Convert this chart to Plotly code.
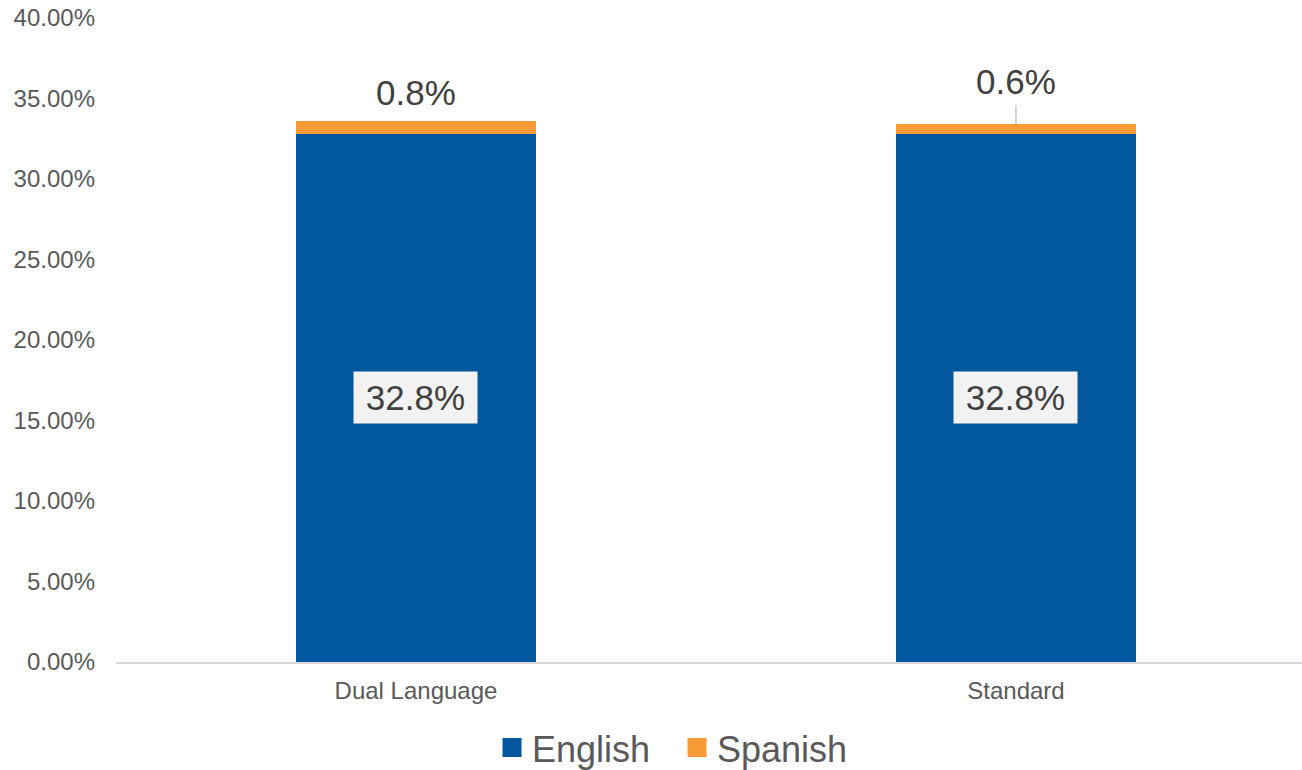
import plotly.graph_objects as go

categories = ["Dual Language", "Standard"]
english = [32.8, 32.8]
spanish = [0.8, 0.6]
y_ticks = [0, 5, 10, 15, 20, 25, 30, 35, 40]

BLUE = "#00579D"
ORANGE = "#F89A36"
FONT = "Liberation Sans, Arial, sans-serif"

fig = go.Figure()
fig.add_trace(go.Bar(x=categories, y=english, name="English", marker_color=BLUE,
                     width=0.4, showlegend=False, marker_line_width=0))
fig.add_trace(go.Bar(x=categories, y=spanish, name="Spanish", marker_color=ORANGE,
                     width=0.4, showlegend=False, marker_line_width=0))
# legend entries
fig.add_trace(go.Scatter(x=[None], y=[None], mode="markers", name="English",
                         marker=dict(symbol="square", size=16, color=BLUE,
                                     line=dict(color=BLUE, width=3))))
fig.add_trace(go.Scatter(x=[None], y=[None], mode="markers", name="Spanish",
                         marker=dict(symbol="square", size=16, color=ORANGE,
                                     line=dict(color=ORANGE, width=3))))

# English labels (middle of bar, with light box)
for c, e in zip(categories, english):
    fig.add_annotation(x=c, y=e / 2, text=f"\u2006{e:.1f}%\u2006", showarrow=False,
                       font=dict(family=FONT, size=35, color="#404040"),
                       bgcolor="#F2F2F2", borderpad=6, xanchor="center", yanchor="middle")

# Spanish labels above bars
offsets = [-29, -43]
leader = [False, True]
for c, e, s, off, ld in zip(categories, english, spanish, offsets, leader):
    if ld:
        fig.add_annotation(x=c, y=e + s, text=f"{s:.1f}%", showarrow=True,
                           arrowhead=0, arrowwidth=1, arrowcolor="#A6A6A6",
                           ax=0, ay=off, startstandoff=3,
                           font=dict(family=FONT, size=35, color="#404040"))
    else:
        fig.add_annotation(x=c, y=e + s, text=f"{s:.1f}%", showarrow=False,
                           yshift=-off, yanchor="middle",
                           font=dict(family=FONT, size=35, color="#404040"))

fig.update_layout(
    barmode="stack",
    width=1302, height=770,
    margin=dict(l=116, r=0, t=18, b=108),
    paper_bgcolor="white", plot_bgcolor="white",
    font=dict(family=FONT, color="#595959", size=24),
    showlegend=True,
    legend=dict(orientation="h", xref="container", yref="container",
                x=0.52, y=0.029, xanchor="center", yanchor="middle",
                traceorder="normal", entrywidth=140,
                font=dict(family=FONT, size=36, color="#595959"),
                itemsizing="trace", tracegroupgap=0, itemwidth=30),
    xaxis=dict(range=[-0.5, 1.4767], showgrid=False, showline=True,
               linecolor="#D9D9D9", linewidth=1.5, ticks="", zeroline=False,
               tickfont=dict(family=FONT, size=24, color="#595959"),
               ticklabelstandoff=6),
    yaxis=dict(range=[0, 40], tickvals=y_ticks,
               ticktext=[f"{v:.2f}%" for v in y_ticks],
               showgrid=False, zeroline=False, showline=False, ticks="",
               tickfont=dict(family=FONT, size=24, color="#595959"),
               ticklabelstandoff=20),
)

fig.write_html("out.html")
